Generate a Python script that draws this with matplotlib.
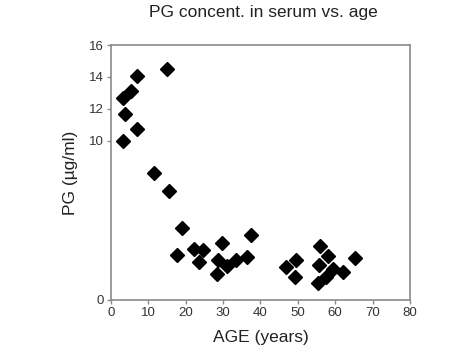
import matplotlib
matplotlib.use("Agg")
import matplotlib.pyplot as plt

plt.rcParams['font.family'] = ['Liberation Sans', 'DejaVu Sans']

age = [3.3, 3.7, 5.5, 6.9, 3.3, 7.0, 14.9, 11.6, 15.5, 18.9, 17.6, 22.2, 24.7, 23.6,
       29.6, 28.7, 31.0, 28.4, 33.4, 36.5, 37.4,
       46.8, 49.6, 49.2, 55.9, 58.1, 55.7, 59.3, 57.4, 55.4, 62.1, 65.2]
pg = [12.65, 11.7, 13.1, 14.07, 10.0, 10.75, 14.47, 8.0, 6.86, 4.54, 2.82, 3.18, 3.14, 2.4,
      3.55, 2.51, 2.13, 1.6, 2.51, 2.68, 4.08,
      2.05, 2.51, 1.46, 3.39, 2.76, 2.2, 1.94, 1.46, 1.05, 1.78, 2.61]
xticks = [0, 10, 20, 30, 40, 50, 60, 70, 80]
yticks = [0, 10, 12, 14, 16]

fig = plt.figure(figsize=(4.74, 3.55), dpi=100)
ax = fig.add_axes([0.234, 0.155, 0.631, 0.718])
ax.plot(age, pg, linestyle='none', marker='D', markersize=7.5, color='black')
ax.set_xlim(0, 80)
ax.set_ylim(0, 16)
ax.set_xticks(xticks)
ax.set_yticks(yticks)
for s in ax.spines.values():
    s.set_color('#8a8a8a')
    s.set_linewidth(1.2)
ax.tick_params(colors='#333333', labelsize=9.5, length=3, width=1, pad=2)
ax.tick_params(axis='both', color='#8a8a8a')
ax.set_xlabel('AGE (years)', fontsize=12.5, color='#222222', labelpad=8)
ax.set_ylabel('PG (µg/ml)', fontsize=12.5, color='#222222', labelpad=8)
fig.text(0.555, 0.985, 'PG concent. in serum vs. age', fontsize=12.5, color='#222222',
         ha='center', va='top')
fig.savefig('out.png', dpi=100)
